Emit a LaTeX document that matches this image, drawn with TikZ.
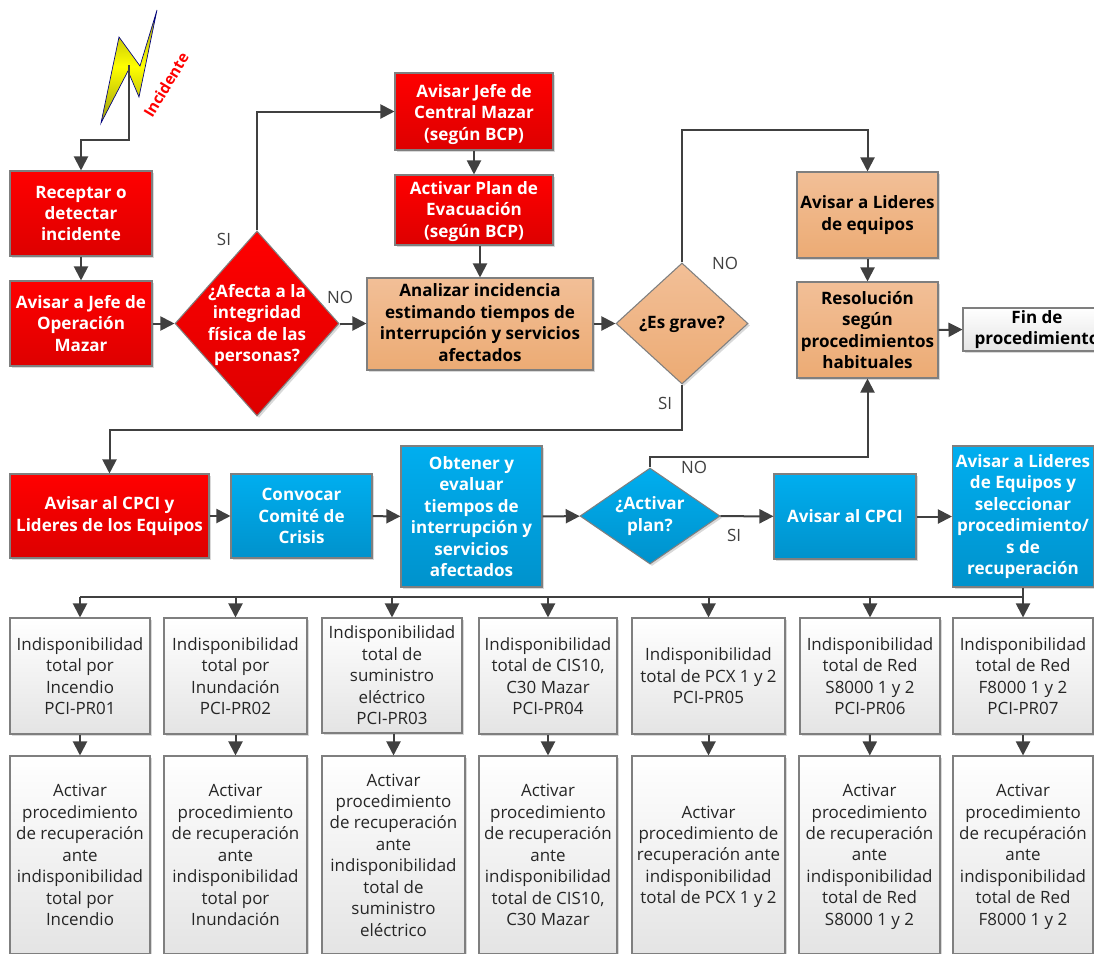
\documentclass[tikz,border=0pt]{standalone}
\usepackage{fontspec}
\setmainfont{Open Sans}
\usetikzlibrary{arrows.meta,shapes.geometric,shadows}
\definecolor{rojoa}{HTML}{FF0000}
\definecolor{rojob}{HTML}{DD0000}
\definecolor{narana}{HTML}{F2BF97}
\definecolor{naranb}{HTML}{ECAB74}
\definecolor{azula}{HTML}{00AEEF}
\definecolor{azulb}{HTML}{0092CC}
\definecolor{grisa}{HTML}{FFFFFF}
\definecolor{grisb}{HTML}{E4E4E4}
\definecolor{borde}{HTML}{7F7F7F}
\definecolor{linea}{HTML}{404040}
\definecolor{olivo}{HTML}{9A9A10}
\tikzset{
	tam/.style 2 args={minimum width=#1*0.75pt,minimum height=#2*0.75pt},
	base/.style={draw=borde,line width=0.8pt,inner sep=0pt,align=center,
		drop shadow={shadow xshift=1.5pt,shadow yshift=-1.5pt,opacity=0.3,fill=gray}},
	letra/.style={font=\fontsize{12.7}{16.1}\selectfont},
	letrab/.style={font=\fontsize{12.8}{16.1}\selectfont\bfseries},
	rojo/.style={base,letrab,rectangle,top color=rojoa,bottom color=rojob,text=white},
	naran/.style={base,letrab,rectangle,top color=narana,bottom color=naranb,text=black},
	azul/.style={base,letrab,rectangle,top color=azula,bottom color=azulb,text=white},
	gris/.style={base,letra,rectangle,top color=grisa,bottom color=grisb,text=black!85},
	rombo/.style={diamond},
	txtb/.style={inner sep=0pt,align=center,letrab},
	resp/.style={inner sep=0pt,letra,text=linea},
	flecha/.style={draw=linea,line width=1.5pt,-{Triangle[length=10.5pt,width=10.5pt]}},
}
\begin{document}
\begin{tikzpicture}[x=0.75pt,y=-0.75pt]
		\useasboundingbox (0,0) rectangle (1094,953);
		\clip (0,0) rectangle (1094,953);
		\draw[draw=blue!50!black,line width=0.5pt,top color=olivo,bottom color=olivo,middle color=yellow]
			(157,10) -- (140,66) -- (119,37) -- (101,123) -- (128,71) -- (139,97) -- cycle;
		\coordinate (rayo) at (129,65);
		\node[rotate=59,text=red,inner sep=1pt,font=\fontsize{11.5}{14}\selectfont\bfseries] (incid) at (166,85) {Incidente};

		\node[rojo,tam={142}{85}] (recep) at (81,213.5) {Receptar o\\detectar\\incidente};
		\node[rojo,tam={142}{85}] (jefeop) at (81,323.5) {Avisar a Jefe de\\Operación\\Mazar};
		\node[rojo,rombo,tam={164}{185}] (afecta) at (257,323.5) {};
		\node[txtb,text=white,yshift=-1pt] (afectatxt) at (afecta) {¿Afecta a la\\integridad\\física de las\\personas?};
		\node[rojo,tam={158}{77}] (jefecen) at (474,111.5) {\rule{0pt}{14pt}Avisar Jefe de\\Central Mazar\\(según BCP)};
		\node[rojo,tam={158}{70}] (evac) at (474,210) {\rule{0pt}{12pt}Activar Plan de\\Evacuación\\(según BCP)};
		\node[naran,tam={226}{92}] (analiza) at (480,324) {Analizar incidencia\\estimando tiempos de\\interrupción y servicios\\afectados\rule[-2pt]{0pt}{2pt}};
		\node[naran,rombo,tam={132}{121}] (grave) at (682,323.5) {};
		\node[txtb,text=black,yshift=-1pt] (gravetxt) at (grave) {¿Es grave?};
		\node[naran,tam={141}{86}] (lideres) at (867.5,215) {Avisar a Lideres\\de equipos};
		\node[naran,tam={141}{96}] (resol) at (867.5,330) {Resolución\\según\\procedimientos\\habituales};
		\node[gris,tam={148}{43},letrab,text=black] (fin) at (1037,329.5) {Fin de\\procedimiento};

		\node[rojo,tam={199}{84}] (cpci) at (109.5,516) {Avisar al CPCI y\\Lideres de los Equipos};
		\node[azul,tam={141}{84}] (comite) at (301.5,516) {Convocar\\Comité de\\Crisis};
		\node[azul,tam={141}{141}] (obtener) at (471.5,516.5) {Obtener y\\evaluar\\tiempos de\\interrupción y\\servicios\\afectados};
		\node[azul,rombo,tam={140}{96}] (activar) at (650,516) {};
		\node[txtb,text=white] (activartxt) at (activar) {¿Activar\\plan?};
		\node[azul,tam={142}{85}] (aviso) at (845,516.5) {Avisar al CPCI};
		\node[azul,tam={141}{141}] (lider2) at (1023,516.5) {Avisar a Lideres\\de Equipos y\\seleccionar\\procedimiento/\\s de\\recuperación};

		\node[gris,tam={140}{116}] (ind1) at (80,676) {Indisponibilidad\\total por\\Incendio\\PCI-PR01};
		\node[gris,tam={143}{116}] (ind2) at (235.5,676) {Indisponibilidad\\total por\\Inundación\\PCI-PR02};
		\node[gris,tam={140}{115}] (ind3) at (392,675.5) {Indisponibilidad\\total de\\suministro\\eléctrico\\PCI-PR03};
		\node[gris,tam={138}{116}] (ind4) at (548,676) {Indisponibilidad\\total de CIS10,\\C30 Mazar\\PCI-PR04};
		\node[gris,tam={153}{116}] (ind5) at (708.5,676) {Indisponibilidad\\total de PCX 1 y 2\\PCI-PR05};
		\node[gris,tam={140}{116}] (ind6) at (870,676) {Indisponibilidad\\total de Red\\S8000 1 y 2\\PCI-PR06};
		\node[gris,tam={140}{116}] (ind7) at (1023,676) {Indisponibilidad\\total de Red\\F8000 1 y 2\\PCI-PR07};

		\node[gris,tam={140}{198}] (act1) at (80,855) {Activar\\procedimiento\\de recuperación\\ante\\indisponibilidad\\total por\\Incendio};
		\node[gris,tam={143}{198}] (act2) at (235.5,855) {Activar\\procedimiento\\de recuperación\\ante\\indisponibilidad\\total por\\Inundación};
		\node[gris,tam={143}{198}] (act3) at (393.5,855) {Activar\\procedimiento\\de recuperación\\ante\\indisponibilidad\\total de\\suministro\\eléctrico};
		\node[gris,tam={138}{198}] (act4) at (548,855) {Activar\\procedimiento\\de recuperación\\ante\\indisponibilidad\\total de CIS10,\\C30 Mazar};
		\node[gris,tam={153}{198}] (act5) at (708.5,855) {\rule{0pt}{12pt}Activar\\procedimiento de\\recuperación ante\\indisponibilidad\\total de PCX 1 y 2};
		\node[gris,tam={141}{198}] (act6) at (869.5,855) {\rule{0pt}{12pt}Activar\\procedimiento\\de recuperación\\ante\\indisponibilidad\\total de Red\\S8000 1 y 2};
		\node[gris,tam={140}{198}] (act7) at (1023,855) {\rule{0pt}{12pt}Activar\\procedimiento\\de recupéración\\ante\\indisponibilidad\\total de Red\\F8000 1 y 2};

		\node[resp] (si1) at (224,239) {SI};
		\node[resp] (no1) at (340,297) {NO};
		\node[resp] (no2) at (725,263) {NO};
		\node[resp] (si2) at (665,403) {SI};
		\node[resp] (no3) at (694,467) {NO};
		\node[resp] (si3) at (734,535) {SI};

		\coordinate (codo1) at (81,140);
		\coordinate (codo3) at (682,130);
		\coordinate (codo4) at (682,430);
		\coordinate (codo5) at (650,457);
		\coordinate (bus) at (1023,597);

		\draw[flecha] (rayo) -- (rayo |- codo1) -- (recep.north |- codo1) -- (recep.north);
		\draw[flecha] (recep) -- (jefeop);
		\draw[flecha] (jefeop) -- (afecta);
		\draw[flecha] (afecta.north) -- (afecta.north |- jefecen.west) -- (jefecen.west);
		\draw[flecha] (afecta.east) -- (analiza.west |- afecta.east);
		\draw[flecha] (jefecen) -- (evac);
		\draw[flecha] (evac.south -| analiza.north) -- (analiza.north);
		\draw[flecha] (analiza.east |- grave.west) -- (grave.west);
		\draw[flecha] (grave.north) -- (codo3) -- (codo3 -| lideres.north) -- (lideres.north);
		\draw[flecha] (lideres) -- (resol);
		\draw[flecha] (resol.east) -- (fin.west);
		\draw[flecha] (grave.south) -- (codo4) -- (codo4 -| cpci.north) -- (cpci.north);
		\draw[flecha] (cpci) -- (comite);
		\draw[flecha] (comite) -- (obtener);
		\draw[flecha] (obtener) -- (activar);
		\draw[flecha] (activar) -- (aviso);
		\draw[flecha] (aviso) -- (lider2);
		\draw[flecha] (activar.north) -- (codo5) -- (codo5 -| resol.south) -- (resol.south);

		\draw[draw=linea,line width=1.5pt] (lider2.south) -- (bus) -- (bus -| ind1.north);
		\draw[flecha] (bus -| ind1.north) -- (ind1.north);
		\draw[flecha] (bus -| ind2.north) -- (ind2.north);
		\draw[flecha] (bus -| ind3.north) -- (ind3.north);
		\draw[flecha] (bus -| ind4.north) -- (ind4.north);
		\draw[flecha] (bus -| ind5.north) -- (ind5.north);
		\draw[flecha] (bus -| ind6.north) -- (ind6.north);
		\draw[flecha] (bus) -- (ind7.north);

		\draw[flecha] (ind1) -- (act1);
		\draw[flecha] (ind2) -- (act2);
		\draw[flecha] (ind3.south -| act3.north) -- (act3.north);
		\draw[flecha] (ind4) -- (act4);
		\draw[flecha] (ind5) -- (act5);
		\draw[flecha] (ind6) -- (act6);
		\draw[flecha] (ind7) -- (act7);
\end{tikzpicture}
\end{document}
